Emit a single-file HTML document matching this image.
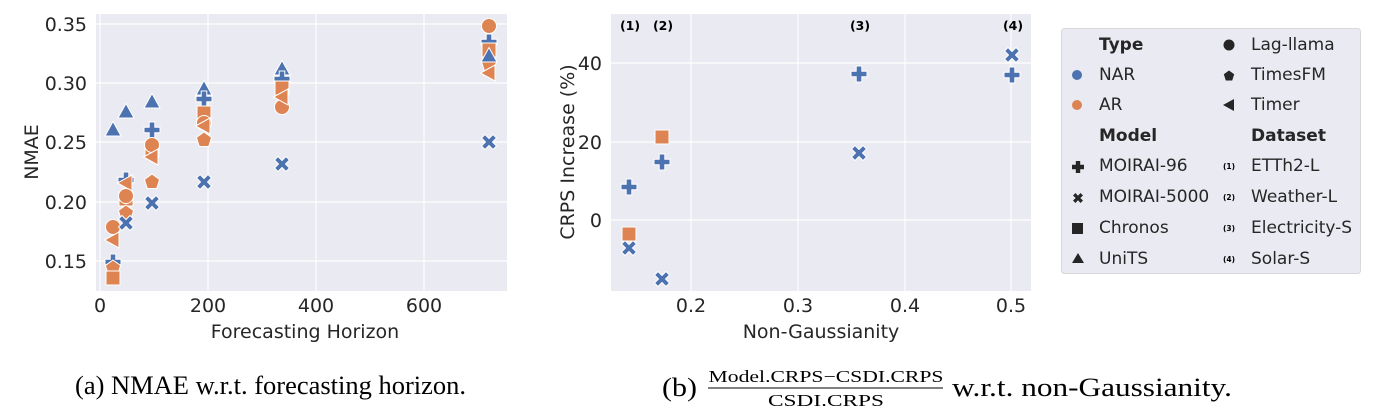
<!DOCTYPE html>
<html><head><meta charset="utf-8"><style>
html,body{margin:0;padding:0;background:#fff;}
svg{display:block;}
.t{font-family:"DejaVu Sans",sans-serif;fill:#262626;}
.s{font-family:"Liberation Serif",serif;fill:#000;}
</style></head><body>
<svg width="1373" height="415" viewBox="0 0 1373 415" xmlns="http://www.w3.org/2000/svg">
<defs>
<g id="circ"><circle r="7.5" stroke="#fff" stroke-width="1"/></g>
<g id="sq"><rect x="-7" y="-7" width="14" height="14" stroke="#fff" stroke-width="1"/></g>
<g id="tri"><polygon points="0,-8.5 8,6 -8,6" stroke="#fff" stroke-width="1"/></g>
<g id="tl"><polygon points="-8.5,0 6,-8 6,8" stroke="#fff" stroke-width="1"/></g>
<g id="pent"><polygon points="0,-8 7.6,-2.5 4.7,6.5 -4.7,6.5 -7.6,-2.5" stroke="#fff" stroke-width="1"/></g>
<g id="plus"><polygon points="-2.8,-8 2.8,-8 2.8,-2.8 8,-2.8 8,2.8 2.8,2.8 2.8,8 -2.8,8 -2.8,2.8 -8,2.8 -8,-2.8 -2.8,-2.8" stroke="#fff" stroke-width="1"/></g>
<g id="x"><polygon points="-7.5,-4 -4,-7.5 0,-3.5 4,-7.5 7.5,-4 3.5,0 7.5,4 4,7.5 0,3.5 -4,7.5 -7.5,4 -3.5,0" stroke="#fff" stroke-width="1"/></g>
</defs>

<!-- Left plot -->
<rect x="96" y="14" width="411" height="277" fill="#EAEAF2"/>
<g stroke="#fff" stroke-width="1.2">
<line x1="96" x2="507" y1="24" y2="24"/><line x1="96" x2="507" y1="83" y2="83"/><line x1="96" x2="507" y1="142" y2="142"/><line x1="96" x2="507" y1="202" y2="202"/><line x1="96" x2="507" y1="261" y2="261"/>
<line x1="100" x2="100" y1="14" y2="291"/><line x1="208" x2="208" y1="14" y2="291"/><line x1="316" x2="316" y1="14" y2="291"/><line x1="424" x2="424" y1="14" y2="291"/>
</g>
<g class="t" font-size="19" text-anchor="end">
<text x="87" y="31">0.35</text><text x="87" y="90">0.30</text><text x="87" y="149">0.25</text><text x="87" y="209">0.20</text><text x="87" y="268">0.15</text>
</g>
<g class="t" font-size="19" text-anchor="middle">
<text x="100" y="312">0</text><text x="208" y="312">200</text><text x="316" y="312">400</text><text x="424" y="312">600</text>
<text x="305" y="338">Forecasting Horizon</text>
<text transform="translate(38,152) rotate(-90)">NMAE</text>
</g>
<g fill="#4C72B0">
<use href="#tri" x="113" y="130"/><use href="#plus" x="113" y="262"/>
<use href="#tri" x="126" y="112"/><use href="#plus" x="126" y="180"/>
<use href="#tri" x="152" y="102"/><use href="#plus" x="152" y="130"/>
<use href="#tri" x="204" y="89"/><use href="#plus" x="204" y="99"/>
<use href="#tri" x="282" y="69"/><use href="#plus" x="282" y="79"/>
<use href="#plus" x="489" y="42"/>
</g>
<g fill="#DD8452">
<use href="#circ" x="113" y="227"/><use href="#tl" x="113" y="240"/><use href="#pent" x="113" y="268"/><use href="#sq" x="113" y="278"/>
<use href="#tl" x="126" y="183"/><use href="#sq" x="126" y="199"/><use href="#circ" x="126" y="196"/><use href="#pent" x="126" y="213"/>
<use href="#sq" x="152" y="150"/><use href="#circ" x="152" y="145"/><use href="#tl" x="152" y="157"/><use href="#pent" x="152" y="182"/>
<use href="#sq" x="204" y="113"/><use href="#circ" x="204" y="123"/><use href="#tl" x="204" y="126"/><use href="#pent" x="204" y="140"/>
<use href="#circ" x="282" y="107"/><use href="#sq" x="282" y="88"/><use href="#tl" x="282" y="97"/>
<use href="#sq" x="489" y="50"/><use href="#pent" x="489" y="64"/><use href="#tl" x="489" y="73"/><use href="#circ" x="489" y="26"/>
</g>
<g fill="#4C72B0">
<use href="#x" x="126" y="223"/><use href="#x" x="152" y="203"/><use href="#x" x="204" y="182"/><use href="#x" x="282" y="164"/><use href="#x" x="489" y="142"/>
<use href="#tri" x="489" y="56"/>
</g>

<!-- Right plot -->
<rect x="611" y="14" width="420" height="277" fill="#EAEAF2"/>
<g stroke="#fff" stroke-width="1.2">
<line x1="611" x2="1031" y1="63" y2="63"/><line x1="611" x2="1031" y1="142" y2="142"/><line x1="611" x2="1031" y1="220" y2="220"/>
<line x1="691" x2="691" y1="14" y2="291"/><line x1="798" x2="798" y1="14" y2="291"/><line x1="905" x2="905" y1="14" y2="291"/><line x1="1011" x2="1011" y1="14" y2="291"/>
</g>
<g class="t" font-size="19" text-anchor="end">
<text x="602" y="70">40</text><text x="602" y="149">20</text><text x="602" y="227">0</text>
</g>
<g class="t" font-size="19" text-anchor="middle">
<text x="691" y="312">0.2</text><text x="798" y="312">0.3</text><text x="905" y="312">0.4</text><text x="1011" y="312">0.5</text>
<text x="821" y="338">Non-Gaussianity</text>
<text transform="translate(574,152) rotate(-90)">CRPS Increase (%)</text>
</g>
<g class="t" font-size="12.5" font-weight="bold" text-anchor="middle" style="fill:#000">
<text x="630" y="30">(1)</text><text x="663" y="30">(2)</text><text x="860" y="30">(3)</text><text x="1013" y="30">(4)</text>
</g>
<g fill="#4C72B0">
<use href="#plus" x="629" y="187"/><use href="#x" x="629" y="248"/>
<use href="#plus" x="662" y="162"/><use href="#x" x="662" y="279"/>
<use href="#plus" x="859" y="74"/><use href="#x" x="859" y="153"/>
<use href="#x" x="1012" y="55"/><use href="#plus" x="1012" y="75"/>
</g>
<g fill="#DD8452">
<use href="#sq" x="629" y="234"/><use href="#sq" x="662" y="137"/>
</g>

<!-- Legend -->
<rect x="1061.5" y="28.5" width="299" height="245" rx="3" fill="#EAEAF2" stroke="#d8d8d8" stroke-width="1"/>
<g class="t" font-size="17">
<text x="1099" y="50" font-weight="bold">Type</text>
<text x="1099" y="80">NAR</text>
<text x="1099" y="110">AR</text>
<text x="1099" y="141" font-weight="bold">Model</text>
<text x="1099" y="171">MOIRAI-96</text>
<text x="1099" y="202">MOIRAI-5000</text>
<text x="1099" y="233">Chronos</text>
<text x="1099" y="264">UniTS</text>
<text x="1251" y="50">Lag-llama</text>
<text x="1251" y="80">TimesFM</text>
<text x="1251" y="110">Timer</text>
<text x="1251" y="141" font-weight="bold">Dataset</text>
<text x="1251" y="171">ETTh2-L</text>
<text x="1251" y="202">Weather-L</text>
<text x="1251" y="233">Electricity-S</text>
<text x="1251" y="264">Solar-S</text>
</g>
<circle cx="1077" cy="75" r="5" fill="#4C72B0"/>
<circle cx="1077" cy="105" r="5" fill="#DD8452"/>
<g fill="#262626">
<polygon points="-2.2,-6 2.2,-6 2.2,-2.2 6,-2.2 6,2.2 2.2,2.2 2.2,6 -2.2,6 -2.2,2.2 -6,2.2 -6,-2.2 -2.2,-2.2" transform="translate(1078,167)"/>
<polygon points="-5,-2.5 -2.5,-5 0,-2.3 2.5,-5 5,-2.5 2.3,0 5,2.5 2.5,5 0,2.3 -2.5,5 -5,2.5 -2.3,0" transform="translate(1078,198)"/>
<rect x="1072" y="223" width="11" height="11"/>
<polygon points="1078,253 1084,263 1072,263"/>
<circle cx="1229" cy="45" r="5.5"/>
<polygon points="0,-5.5 5.2,-1.7 3.2,4.5 -3.2,4.5 -5.2,-1.7" transform="translate(1229,76)"/>
<polygon points="1223,105 1234,99 1234,111"/>
</g>
<g class="t" font-size="7.5" font-weight="bold" text-anchor="middle" style="fill:#000">
<text x="1229" y="169">(1)</text><text x="1229" y="200">(2)</text><text x="1229" y="231">(3)</text><text x="1229" y="262">(4)</text>
</g>

<!-- Captions -->
<text class="s" x="75" y="394" font-size="26" textLength="391" lengthAdjust="spacingAndGlyphs">(a) NMAE w.r.t. forecasting horizon.</text>
<text class="s" x="662" y="396" font-size="26" textLength="35" lengthAdjust="spacingAndGlyphs">(b)</text>
<text class="s" x="826" y="382" font-size="17" text-anchor="middle" textLength="235" lengthAdjust="spacingAndGlyphs">Model.CRPS−CSDI.CRPS</text>
<line x1="708" x2="943" y1="388" y2="388" stroke="#000" stroke-width="1"/>
<text class="s" x="826" y="406" font-size="17" text-anchor="middle" textLength="116" lengthAdjust="spacingAndGlyphs">CSDI.CRPS</text>
<text class="s" x="952" y="396" font-size="26" textLength="280" lengthAdjust="spacingAndGlyphs">w.r.t. non-Gaussianity.</text>
</svg>
</body></html>
